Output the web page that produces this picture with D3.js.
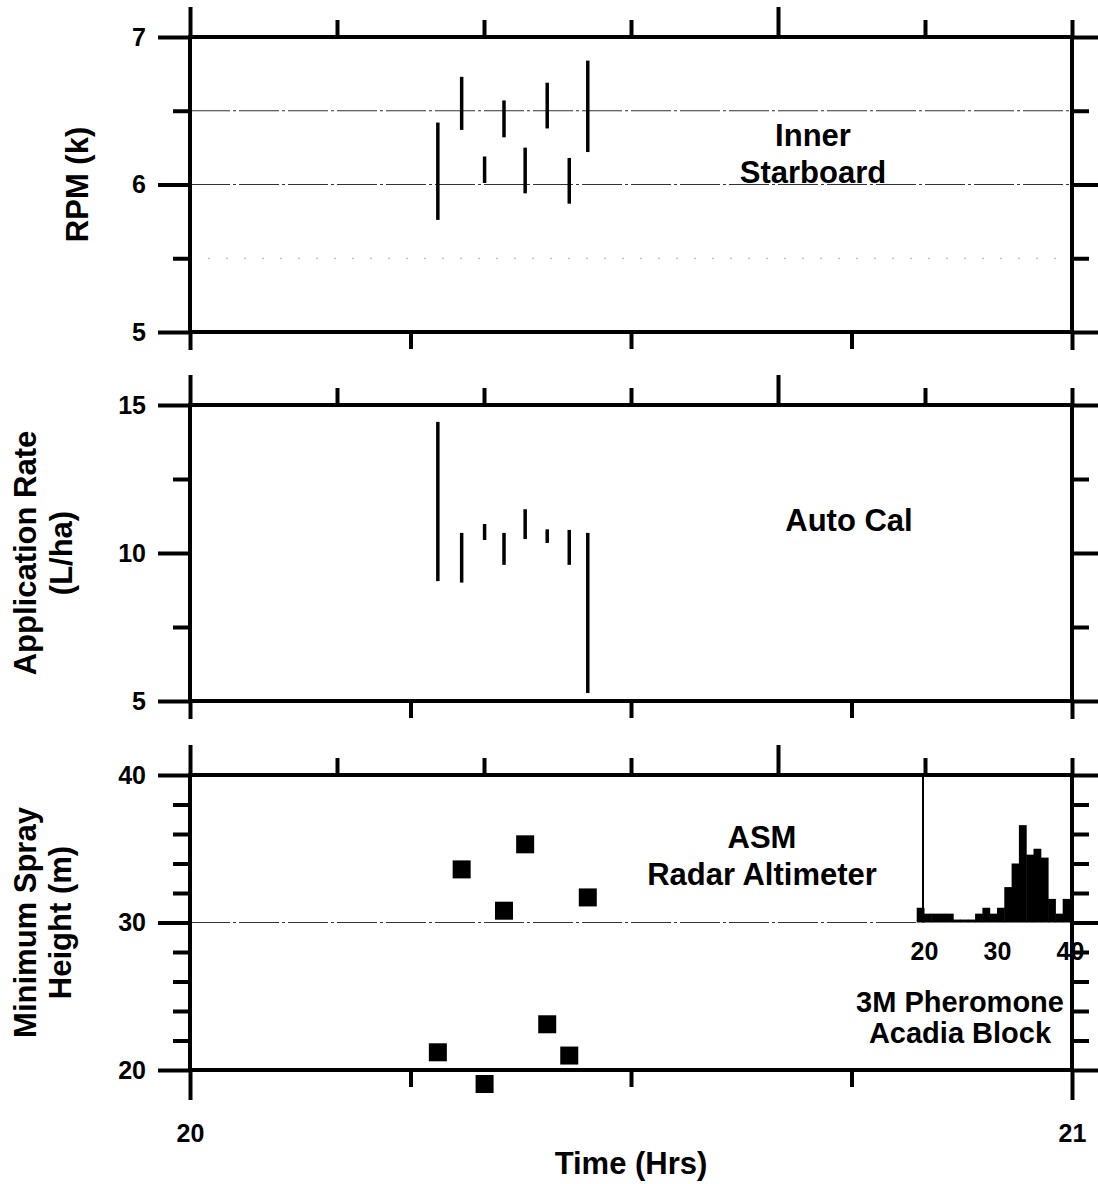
<!DOCTYPE html>
<meta charset="utf-8">
<script src="https://d3js.org/d3.v7.min.js"></script>
<style>
    body { margin: 0; background: #fff; }
    text { font-family: "Liberation Sans", Arial, Helvetica, sans-serif; font-weight: bold; fill: #000; }
</style>

<div id="chart"></div>

<script>
// sample times, decimal hours
const times = [20.281, 20.308, 20.334, 20.356, 20.380, 20.405, 20.430, 20.451];

// RPM (k), Inner Starboard : range of each pass
const rpmLow  = [5.76, 6.37, 6.01, 6.32, 5.94, 6.38, 5.87, 6.22];
const rpmHigh = [6.42, 6.73, 6.19, 6.57, 6.25, 6.69, 6.18, 6.84];

// Application rate (L/ha), Auto Cal
const rateLow  = [9.05, 9.00, 10.44, 9.60, 10.47, 10.34, 9.60, 5.27];
const rateHigh = [14.43, 10.68, 10.98, 10.68, 11.48, 10.80, 10.78, 10.68];

// minimum spray height (m), ASM radar altimeter
const sprayHeight = [21.2, 33.6, 19.05, 30.8, 35.3, 23.1, 20.98, 31.7];

// inset histogram, 3M Pheromone Acadia Block (1 m bins)
const histBins   = [19, 20, 21, 22, 23, 24, 25, 26, 27, 28, 29, 30, 31, 32, 33, 34, 35, 36, 37, 38, 39];
const histCounts = [5, 3, 3, 3, 3, 1, 1, 1, 3, 5, 3, 5, 12, 20, 33, 23, 25, 22, 8, 3, 8];
const histTicks  = [20, 30, 40];

// time axis ticks
const timeTopLong   = [20, 20 + 40/60];
const timeTopShort  = [20 + 10/60, 20 + 20/60, 20 + 30/60, 20 + 50/60, 21];
const timeBottomEnd = [20, 21];
const timeBottomMid = [20.25, 20.5, 20.75];

const svg = d3.select("#chart")
    .append("svg")
    .attr("width", 1098)
    .attr("height", 1184);

const x = d3.scaleLinear().domain([20, 21]).range([190, 1072]);

const y1 = d3.scaleLinear().domain([5, 7]).range([332, 37]);
const y2 = d3.scaleLinear().domain([5, 15]).range([701, 405]);
const y3 = d3.scaleLinear().domain([20, 40]).range([1070, 775]);

function styleAxis(g) {
    g.select(".domain").remove();
    g.selectAll(".tick line").attr("stroke", "#000").attr("stroke-width", 4);
    g.selectAll(".tick text").attr("font-size", 25).attr("font-family", null);
}

function drawFrame(y, major, minor, bottomLen, bottomLabels) {
    const top = y.range()[1], bottom = y.range()[0];
    const g = svg.append("g");

    // left
    g.append("g").attr("transform", `translate(${x(20)},0)`)
        .call(d3.axisLeft(y).tickValues(major).tickSize(32).tickPadding(12).tickFormat(d3.format("d")))
        .call(styleAxis);
    g.append("g").attr("transform", `translate(${x(20)},0)`)
        .call(d3.axisLeft(y).tickValues(minor).tickSize(17).tickFormat(""))
        .call(styleAxis);
    // right
    g.append("g").attr("transform", `translate(${x(21)},0)`)
        .call(d3.axisRight(y).tickValues(major).tickSize(26).tickFormat(""))
        .call(styleAxis);
    g.append("g").attr("transform", `translate(${x(21)},0)`)
        .call(d3.axisRight(y).tickValues(minor).tickSize(17).tickFormat(""))
        .call(styleAxis);
    // top
    g.append("g").attr("transform", `translate(0,${top})`)
        .call(d3.axisTop(x).tickValues(timeTopLong).tickSize(30).tickFormat(""))
        .call(styleAxis);
    g.append("g").attr("transform", `translate(0,${top})`)
        .call(d3.axisTop(x).tickValues(timeTopShort).tickSize(17).tickFormat(""))
        .call(styleAxis);
    // bottom
    g.append("g").attr("transform", `translate(0,${bottom})`)
        .call(d3.axisBottom(x).tickValues(timeBottomEnd).tickSize(bottomLen).tickPadding(24)
            .tickFormat(bottomLabels ? d3.format("d") : ""))
        .call(styleAxis);
    g.append("g").attr("transform", `translate(0,${bottom})`)
        .call(d3.axisBottom(x).tickValues(timeBottomMid).tickSize(17).tickFormat(""))
        .call(styleAxis);

    g.append("rect")
        .attr("x", x(20))
        .attr("y", top)
        .attr("width", x(21) - x(20))
        .attr("height", bottom - top)
        .attr("fill", "none")
        .attr("stroke", "#000")
        .attr("stroke-width", 4);
}

function gridLine(y, v, x0, x1, dash, color) {
    svg.append("line")
        .attr("x1", x0).attr("x2", x1)
        .attr("y1", y(v)).attr("y2", y(v))
        .attr("stroke", color)
        .attr("stroke-width", 1)
        .attr("stroke-dasharray", dash);
}

// ***** PANEL 1 : RPM *****
gridLine(y1, 6.5, x(20), x(21), "40,3,3,3", "#333");
gridLine(y1, 6, x(20), x(21), "40,3,3,3", "#333");
gridLine(y1, 5.5, x(20), x(21), "2,16", "#aaa");

svg.append("g")
    .selectAll("line")
    .data(times)
    .join("line")
    .attr("x1", d => x(d)).attr("x2", d => x(d))
    .attr("y1", (d, i) => y1(rpmLow[i]))
    .attr("y2", (d, i) => y1(rpmHigh[i]))
    .attr("stroke", "#000")
    .attr("stroke-width", 3.5);

drawFrame(y1, [5, 6, 7], [5.5, 6.5], 18, false);

// ***** PANEL 2 : application rate *****
svg.append("g")
    .selectAll("line")
    .data(times)
    .join("line")
    .attr("x1", d => x(d)).attr("x2", d => x(d))
    .attr("y1", (d, i) => y2(rateLow[i]))
    .attr("y2", (d, i) => y2(rateHigh[i]))
    .attr("stroke", "#000")
    .attr("stroke-width", 3.5);

drawFrame(y2, [5, 10, 15], [7.5, 12.5], 18, false);

// ***** PANEL 3 : spray height + inset *****
const hx = d3.scaleLinear().domain([20, 40]).range([924, 1070]);
const hy = d3.scaleLinear().domain([0, 50]).range([y3(30), y3(40)]);

gridLine(y3, 30, x(20), hx(19), "40,3,3,3", "#333");

svg.append("g")
    .selectAll("rect")
    .data(histBins)
    .join("rect")
    .attr("x", d => hx(d))
    .attr("width", d => hx(d + 1) - hx(d) + 0.5)
    .attr("y", (d, i) => hy(histCounts[i]))
    .attr("height", (d, i) => hy(0) - hy(histCounts[i]))
    .attr("fill", "#000");

svg.append("line")
    .attr("x1", hx(20) - 1).attr("x2", hx(20) - 1)
    .attr("y1", hy(0)).attr("y2", y3(40))
    .attr("stroke", "#000")
    .attr("stroke-width", 2);

svg.append("g").attr("transform", `translate(0,${hy(0)})`)
    .call(d3.axisBottom(hx).tickValues(histTicks).tickSize(0).tickPadding(20).tickFormat(d3.format("d")))
    .call(styleAxis);

const sq = 18;
svg.append("g")
    .selectAll("rect")
    .data(times)
    .join("rect")
    .attr("x", d => x(d) - sq / 2)
    .attr("y", (d, i) => y3(sprayHeight[i]) - sq / 2)
    .attr("width", sq)
    .attr("height", sq)
    .attr("fill", "#000");

drawFrame(y3, [20, 30, 40], [22, 24, 26, 28, 32, 34, 36, 38], 30, true);

// ***** TEXT *****
function label(lines, cx, baseY, lineH, size) {
    lines.forEach((t, i) => {
        svg.append("text")
            .text(t)
            .attr("x", cx)
            .attr("y", baseY + i * lineH)
            .attr("text-anchor", "middle")
            .attr("font-size", size);
    });
}

function yTitle(lines, baseX, cy, lineH) {
    lines.forEach((t, i) => {
        svg.append("text")
            .text(t)
            .attr("transform", `translate(${baseX + i * lineH},${cy}) rotate(-90)`)
            .attr("text-anchor", "middle")
            .attr("font-size", 31);
    });
}

label(["Inner", "Starboard"], 813, 146, 37, 31);
label(["Auto Cal"], 849, 531, 37, 31);
label(["ASM", "Radar Altimeter"], 762, 848, 37, 31);
label(["3M Pheromone", "Acadia Block"], 960, 1012, 31, 29);

yTitle(["RPM (k)"], 88, (y1(5) + y1(7)) / 2, 0);
yTitle(["Application Rate", "(L/ha)"], 36, (y2(5) + y2(15)) / 2, 36);
yTitle(["Minimum Spray", "Height (m)"], 36, (y3(20) + y3(40)) / 2, 35);

svg.append("text")
    .text("Time (Hrs)")
    .attr("x", x(20.5))
    .attr("y", 1174)
    .attr("text-anchor", "middle")
    .attr("font-size", 31);
</script>
